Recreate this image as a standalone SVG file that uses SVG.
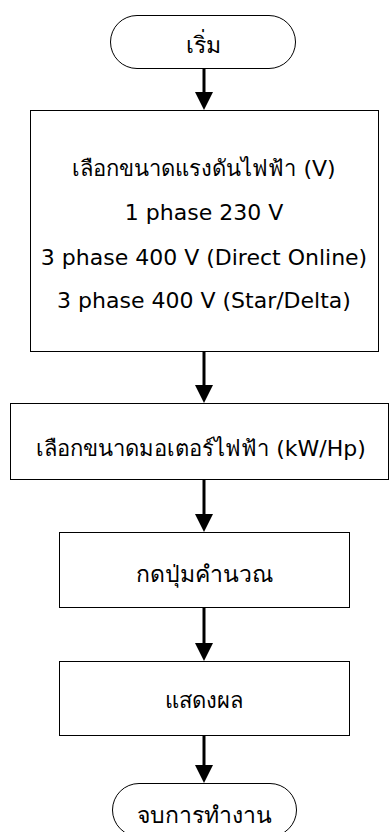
<svg xmlns="http://www.w3.org/2000/svg" width="389" height="832" viewBox="0 0 389 832">
<defs>
<style>
.box{fill:#fff;stroke:#000;stroke-width:1}
.t{font-family:"DejaVu Sans","Noto Sans",sans-serif;font-size:22px;fill:#000;text-anchor:middle}
.th{font-size:23px}
.c{stroke:#000;stroke-width:3;fill:none}
</style>
<marker id="ah" viewBox="0 0 18 18" refX="0" refY="9" markerWidth="18" markerHeight="18" markerUnits="userSpaceOnUse" orient="auto">
<path d="M0,0 L18,9 L0,18 z" fill="#000"/>
</marker>
</defs>
<rect width="389" height="832" fill="#fff"/>
<g id="connectors">
<line class="c" x1="204" y1="68" x2="204" y2="92" marker-end="url(#ah)"/>
<line class="c" x1="204" y1="351" x2="204" y2="385" marker-end="url(#ah)"/>
<line class="c" x1="204" y1="479" x2="204" y2="514" marker-end="url(#ah)"/>
<line class="c" x1="204" y1="607" x2="204" y2="643" marker-end="url(#ah)"/>
<line class="c" x1="204" y1="735" x2="204" y2="765" marker-end="url(#ah)"/>
</g>
<g id="start">
<rect class="box" x="110.5" y="15.5" width="185" height="53" rx="26.5"/>
<text class="t th" x="203" y="53">เริ่ม</text>
</g>
<g id="voltage">
<rect class="box" x="30.5" y="110.5" width="348" height="241"/>
<text class="t" x="204" y="176">เลือกขนาดแรงดันไฟฟ้า (V)</text>
<text class="t" x="204" y="220">1 phase 230 V</text>
<text class="t" x="204" y="265">3 phase 400 V (Direct Online)</text>
<text class="t" x="204" y="308">3 phase 400 V (Star/Delta)</text>
</g>
<g id="motor">
<rect class="box" x="10.5" y="403.5" width="378" height="76"/>
<text class="t" x="201" y="456">เลือกขนาดมอเตอร์ไฟฟ้า (kW/Hp)</text>
</g>
<g id="calc">
<rect class="box" x="59.5" y="532.5" width="290" height="75"/>
<text class="t th" x="204" y="582">กดปุ่มคำนวณ</text>
</g>
<g id="show">
<rect class="box" x="59.5" y="661.5" width="290" height="74"/>
<text class="t" x="204" y="708">แสดงผล</text>
</g>
<g id="end">
<rect class="box" x="112.5" y="783.5" width="184" height="53" rx="26.5"/>
<text class="t th" x="204" y="823">จบการทำงาน</text>
</g>
</svg>
